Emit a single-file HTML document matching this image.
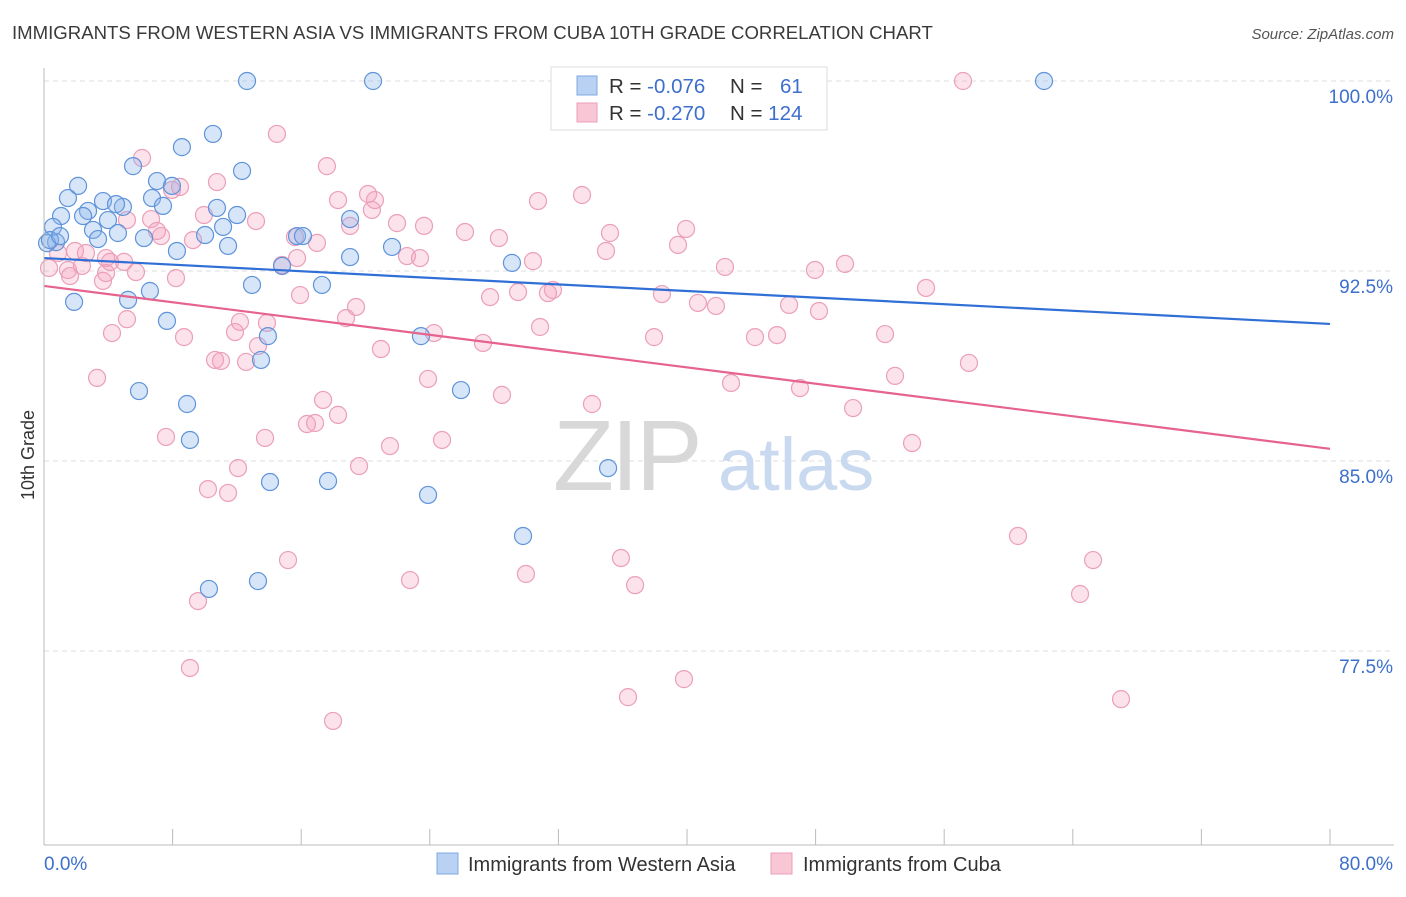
<!DOCTYPE html>
<html><head><meta charset="utf-8"><style>
body{margin:0;background:#fff;font-family:"Liberation Sans",sans-serif}
svg text{font-family:"Liberation Sans",sans-serif}
</style></head><body>
<svg id="chart" width="1406" height="892" viewBox="0 0 1406 892" xmlns="http://www.w3.org/2000/svg">
<text x="12" y="39" font-size="18.6" fill="#3a3a3a">IMMIGRANTS FROM WESTERN ASIA VS IMMIGRANTS FROM CUBA 10TH GRADE CORRELATION CHART</text>
<text x="1394" y="39" font-size="15" fill="#555" font-style="italic" text-anchor="end">Source: ZipAtlas.com</text>
<g id="grid"></g>
<g>
<text x="553" y="490" font-size="100" fill="#d8d8d8" font-family="Liberation Serif" letter-spacing="-3">ZIP</text>
<text x="718" y="490" font-size="74" fill="#c9d9f0">atlas</text>
</g>
<g id="pts"></g>
<g id="trends"></g>
<g id="axes"></g>
<text transform="translate(34,455) rotate(-90)" font-size="18" fill="#333" text-anchor="middle">10th Grade</text>
<g>
<rect x="551" y="67" width="276" height="63" fill="#fff" stroke="#ddd"/>
<rect x="577" y="76" width="20" height="19" fill="#b9d2f3" stroke="#7ea8e0"/>
<rect x="577" y="103" width="20" height="19" fill="#f9c6d5" stroke="#eba0b8"/>
<text x="609" y="93" font-size="20.5" fill="#333">R = <tspan fill="#3d6fcc">-0.076</tspan></text>
<text x="730" y="93" font-size="20.5" fill="#333">N = <tspan fill="#3d6fcc" x="780">61</tspan></text>
<text x="609" y="120" font-size="20.5" fill="#333">R = <tspan fill="#3d6fcc">-0.270</tspan></text>
<text x="730" y="120" font-size="20.5" fill="#333">N = <tspan fill="#3d6fcc">124</tspan></text>
</g>
<g>
<rect x="437" y="853" width="21" height="21" fill="#b9d2f3" stroke="#7ea8e0"/>
<text x="468" y="871" font-size="20" fill="#333">Immigrants from Western Asia</text>
<rect x="771" y="853" width="21" height="21" fill="#f9c6d5" stroke="#eba0b8"/>
<text x="803" y="871" font-size="20" fill="#333">Immigrants from Cuba</text>
</g>
</svg>
<script>
const xTicks=[0,8,16,24,32,40,48,56,64,72,80];
const yTicks=[100,92.5,85,77.5];
const yTickLabels=["100.0%","92.5%","85.0%","77.5%"];
const xTickLabels=["0.0%","80.0%"];
const blueX=[12.63,20.47,42.49,62.21,10.51,8.58,5.54,12.32,7.03,2.12,7.96,1.49,6.72,3.67,4.91,7.40,2.74,4.48,10.76,1.06,2.43,12.01,3.98,19.04,0.56,3.05,11.14,4.60,6.22,10.02,15.74,16.11,3.36,0.75,0.19,11.45,21.65,8.27,19.04,29.11,14.81,12.94,17.29,6.59,1.87,5.23,7.65,13.93,23.45,13.50,5.91,25.94,8.90,9.08,35.09,14.06,17.67,23.89,29.80,13.31,10.26,0.37,1.00];
const blueY=[100,100,100,100,97.91,97.39,96.64,96.45,96.05,95.86,95.86,95.38,95.38,95.26,95.03,95.07,94.87,95.14,94.99,94.67,94.67,94.71,94.51,94.55,94.24,94.12,94.24,94.00,93.80,93.92,93.88,93.88,93.76,93.64,93.60,93.49,93.45,93.29,93.05,92.82,92.70,91.95,91.95,91.71,91.28,91.36,90.53,89.93,89.93,88.99,87.76,87.80,87.25,85.83,84.72,84.17,84.21,83.66,82.04,80.26,79.95,93.72,93.88];
const pinkX=[57.17,14.49,6.10,17.60,10.76,8.46,7.96,20.16,18.29,33.47,30.73,20.59,20.40,9.95,5.16,6.66,13.19,21.96,23.64,19.04,7.03,7.28,26.19,39.94,28.30,35.21,9.27,15.61,16.98,39.44,34.96,1.93,2.61,0.87,3.86,4.11,22.58,23.39,30.42,15.74,2.36,4.98,0.31,1.49,14.81,42.36,49.83,47.96,5.72,3.86,8.21,3.67,1.62,31.66,29.49,31.35,27.75,38.44,15.93,54.87,40.68,41.80,46.35,48.21,19.41,18.79,5.16,13.87,12.19,4.23,11.88,24.26,30.86,8.71,37.95,44.23,45.60,52.32,20.96,27.31,13.31,10.64,11.01,12.57,57.54,3.30,23.89,42.74,47.03,52.94,28.49,17.36,18.29,16.36,16.86,50.33,34.09,7.59,13.75,21.52,24.76,54.00,19.60,12.07,10.20,11.45,60.59,15.18,35.89,65.26,22.77,29.98,36.77,64.45,9.58,9.08,39.81,36.33,67.00,17.98];
const pinkY=[100,97.91,96.96,96.64,96.01,95.82,95.70,95.54,95.30,95.50,95.26,95.30,94.91,94.71,94.51,94.55,94.47,94.39,94.28,94.28,94.08,93.88,94.04,94.16,93.80,94.00,93.72,93.84,93.61,93.53,93.29,93.29,93.21,93.21,93.01,92.86,93.09,93.01,92.89,93.01,92.70,92.86,92.62,92.54,92.74,92.66,92.78,92.54,92.46,92.42,92.22,92.11,92.30,91.75,91.67,91.63,91.47,91.59,91.55,91.83,91.24,91.12,91.16,90.92,91.08,90.64,90.60,90.45,90.49,90.05,90.09,90.05,90.29,89.89,89.89,89.89,89.97,90.01,89.42,89.66,89.54,88.99,88.95,88.91,88.87,88.28,88.24,88.08,87.88,88.36,87.61,87.41,86.82,86.46,86.50,87.09,87.25,85.95,85.91,85.59,85.83,85.71,84.80,84.72,83.89,83.74,82.04,81.09,81.17,81.09,80.30,80.54,80.10,79.75,79.47,76.83,76.39,75.68,75.60,74.74];
const blueTrend=[93.01,90.41];
const pinkTrend=[91.91,85.48];
const NS="http://www.w3.org/2000/svg";
const X0=44,X1=1330,Y100=81,PXPER=190/7.5;
function sx(v){return X0+(v/80)*(X1-X0);}
function sy(v){return Y100+(100-v)*PXPER;}
function mk(tag,attrs,parent){const e=document.createElementNS(NS,tag);for(const k in attrs)e.setAttribute(k,attrs[k]);parent.appendChild(e);return e;}
const grid=document.getElementById('grid');
yTicks.forEach((t,i)=>{
 const l=mk('line',{x1:44,x2:1394,y1:sy(t),y2:sy(t),stroke:'#dedede','stroke-dasharray':'5,4'},grid);
 
 
 const tx=mk('text',{x:1393,y:sy(t)+22,'font-size':19,fill:'#3d6fcc','text-anchor':'end'},grid);
 tx.textContent=yTickLabels[i];
 
 
});
const axes=document.getElementById('axes');
const ax=mk('line',{x1:44,x2:1394,y1:845,y2:845,stroke:'#bbb'},axes);


const ay=mk('line',{x1:44,x2:44,y1:68,y2:845,stroke:'#bbb'},axes);


xTicks.forEach(t=>{
 const l=mk('line',{x1:sx(t),x2:sx(t),y1:829,y2:845,stroke:'#bbb'},axes);
 
 
});
const xl0=mk('text',{x:44,y:870,'font-size':19,fill:'#3d6fcc'},axes);
xl0.textContent=xTickLabels[0];


const xl1=mk('text',{x:1393,y:870,'font-size':19,fill:'#3d6fcc','text-anchor':'end'},axes);
xl1.textContent=xTickLabels[1];


const pts=document.getElementById('pts');
pinkX.forEach((x,i)=>{
 const c=mk('circle',{cx:sx(x),cy:sy(pinkY[i]),r:8.5,fill:'rgba(244,160,188,0.3)',stroke:'#eb9fb8','stroke-width':1.2},pts);
 
 
});
blueX.forEach((x,i)=>{
 const c=mk('circle',{cx:sx(x),cy:sy(blueY[i]),r:8.5,fill:'rgba(140,180,235,0.35)',stroke:'#5f93da','stroke-width':1.2},pts);
 
 
});
const tr=document.getElementById('trends');
const bl=mk('line',{x1:sx(0),x2:sx(80),y1:sy(blueTrend[0]),y2:sy(blueTrend[1]),stroke:'#2f6fd6','stroke-width':2.2},tr);


const pl=mk('line',{x1:sx(0),x2:sx(80),y1:sy(pinkTrend[0]),y2:sy(pinkTrend[1]),stroke:'#e5638c','stroke-width':2.2},tr);


</script>
</body></html>
